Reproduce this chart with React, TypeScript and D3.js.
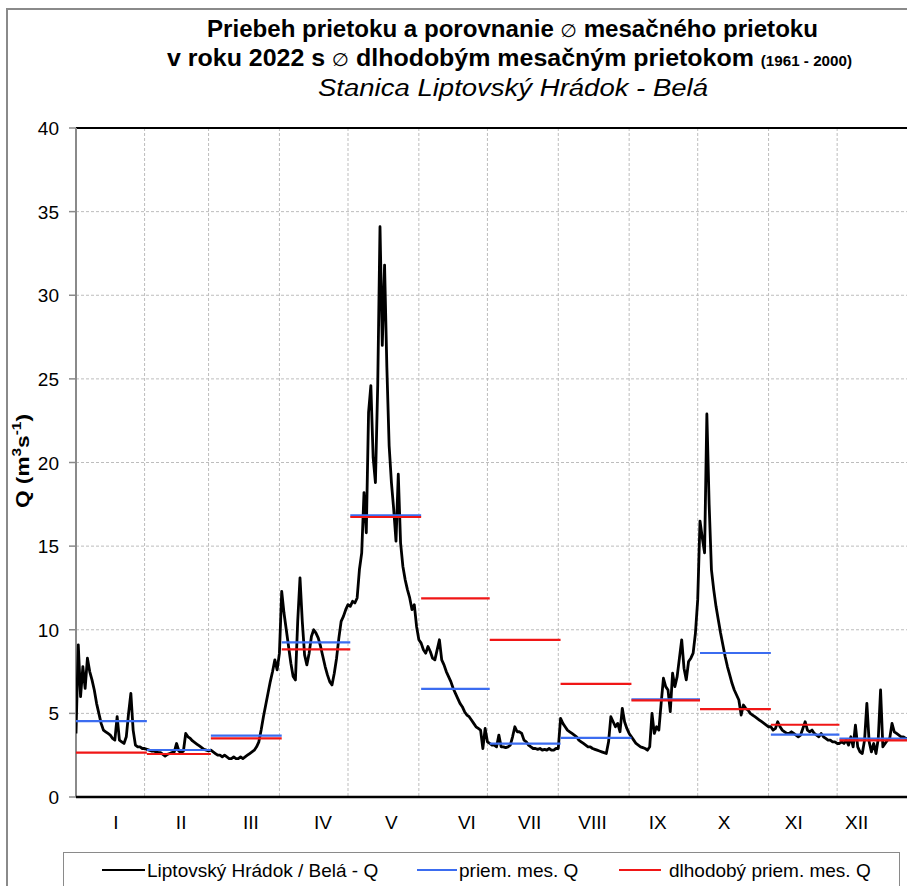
import React from "react";
import * as d3 from "d3";

// ---- data ----
const monthNames = ["I", "II", "III", "IV", "V", "VI", "VII", "VIII", "IX", "X", "XI", "XII"];
// first day-of-year (1-based) of each month, plus end
const monthStartDays = [1, 32, 60, 91, 121, 152, 182, 213, 244, 274, 305, 335, 366];
// vertical gridlines (month boundaries)
const gridDays = [31, 59, 90, 120, 151, 181, 212, 243, 273, 304, 334];
// label anchors on the day axis
const monthLabelDays = [18.5, 47, 77.5, 109, 139, 172, 199.5, 227, 255.5, 284.5, 315, 342.5];
const yTicks = [0, 5, 10, 15, 20, 25, 30, 35, 40];

// daily discharge 2022 (m3/s)
const qJan = [3.8, 9.1, 6.0, 7.8, 6.5, 8.3, 7.5, 7.0, 6.4, 5.6, 5.0, 4.4, 4.0, 3.9, 3.8, 3.7, 3.5, 3.4, 4.8, 3.4, 3.3, 3.2, 3.6, 5.0, 6.2, 4.0, 3.1, 3.0, 3.0, 2.9, 2.9];
const qFeb = [2.85, 2.8, 2.75, 2.75, 2.7, 2.65, 2.65, 2.55, 2.45, 2.55, 2.6, 2.65, 2.7, 3.2, 2.75, 2.65, 2.75, 3.8, 3.6, 3.5, 3.35, 3.25, 3.15, 3.05, 2.95, 2.85, 2.8, 2.75];
const qMar = [2.8, 2.7, 2.6, 2.5, 2.5, 2.4, 2.5, 2.4, 2.3, 2.3, 2.4, 2.3, 2.3, 2.4, 2.3, 2.4, 2.5, 2.6, 2.7, 2.8, 3.0, 3.3, 4.0, 4.8, 5.5, 6.2, 6.9, 7.5, 8.2, 7.6, 8.6];
const qApr = [12.3, 11.0, 10.0, 9.0, 8.0, 7.2, 7.0, 10.5, 13.1, 10.5, 8.5, 7.9, 8.6, 9.6, 10.0, 9.8, 9.5, 9.0, 8.4, 7.8, 7.3, 6.9, 6.7, 7.4, 8.3, 9.5, 10.5, 10.8, 11.2, 11.5];
const qMay = [11.4, 11.7, 11.6, 11.9, 13.6, 14.6, 18.2, 15.8, 23.0, 24.6, 20.3, 18.8, 24.6, 34.1, 27.0, 31.8, 25.7, 21.0, 18.8, 17.2, 15.3, 19.3, 15.2, 13.8, 13.0, 12.4, 11.9, 11.2, 11.5, 10.2, 9.4];
const qJun = [9.2, 8.8, 8.6, 9.0, 8.7, 8.3, 8.2, 8.8, 9.4, 8.2, 7.9, 7.5, 7.2, 6.9, 6.5, 6.2, 5.9, 5.6, 5.4, 5.1, 4.9, 4.8, 4.6, 4.4, 4.2, 4.1, 4.0, 2.9, 4.1, 3.3];
const qJul = [3.2, 3.1, 3.1, 3.0, 3.7, 3.0, 3.0, 2.95, 3.0, 3.1, 3.6, 4.2, 3.9, 3.9, 3.8, 3.4, 3.3, 3.1, 3.0, 2.9, 2.9, 2.85, 2.9, 2.8, 2.85, 2.8, 2.9, 2.8, 2.8, 2.9, 2.9];
const qAug = [4.7, 4.4, 4.2, 4.0, 3.9, 3.8, 3.7, 3.6, 3.4, 3.3, 3.2, 3.1, 3.0, 3.0, 2.9, 2.85, 2.8, 2.75, 2.7, 2.65, 2.6, 3.3, 4.8, 4.5, 4.2, 4.4, 3.9, 5.3, 4.5, 4.1, 3.8];
const qSep = [3.6, 3.4, 3.2, 3.1, 3.0, 2.95, 2.9, 2.8, 3.0, 5.0, 3.8, 4.2, 4.0, 5.6, 7.1, 6.6, 6.4, 5.1, 7.4, 6.6, 7.2, 8.3, 9.4, 7.7, 7.0, 8.1, 8.3, 8.6, 9.8, 11.8];
const qOct = [16.5, 15.5, 14.6, 22.9, 17.5, 13.6, 12.4, 11.4, 10.6, 9.8, 9.1, 8.4, 7.8, 7.3, 6.8, 6.4, 6.1, 5.8, 4.9, 5.5, 5.3, 5.2, 5.0, 4.9, 4.8, 4.7, 4.6, 4.5, 4.4, 4.3, 4.2];
const qNov = [4.2, 4.0, 4.1, 4.5, 4.2, 4.0, 3.9, 3.8, 3.8, 3.9, 3.8, 3.7, 3.6, 3.7, 4.1, 4.5, 4.0, 3.9, 4.0, 3.8, 3.7, 3.6, 3.8, 3.6, 3.5, 3.4, 3.4, 3.3, 3.3, 3.2];
const qDec = [3.2, 3.3, 3.2, 3.4, 3.1, 3.6, 3.0, 4.3, 3.0, 2.7, 2.6, 3.4, 5.6, 3.3, 2.7, 3.2, 2.6, 3.5, 6.4, 3.0, 3.2, 3.4, 3.5, 4.4, 3.9, 3.8, 3.7, 3.6, 3.6, 3.5, 3.5];

// monthly mean 2022 and long-term monthly mean (1961-2000)
const meanQ2022 = [4.54, 2.81, 3.67, 9.25, 16.84, 6.46, 3.19, 3.53, 5.84, 8.61, 3.73, 3.49];
const meanQLong = [2.65, 2.57, 3.51, 8.83, 16.74, 11.88, 9.39, 6.76, 5.78, 5.26, 4.32, 3.39];

const dailyQ = [qJan, qFeb, qMar, qApr, qMay, qJun, qJul, qAug, qSep, qOct, qNov, qDec].flat();

// ---- layout ----
const W = 907;
const H = 886;
const left = 76;
const right = 908;
const top = 128;
const bottom = 797;
const FONT = "'Liberation Sans', Arial, sans-serif";
const BLUE = "#3b6cf0";
const RED = "#f01616";

export default function App() {
  const x = d3.scaleLinear().domain([1, 365]).range([left, right]);
  const y = d3.scaleLinear().domain([0, 40]).range([bottom, top]);

  const lineGen = d3
    .line<number>()
    .x((_, i) => x(i + 1))
    .y((d) => y(d));

  return (
    <svg
      width={W}
      height={H}
      style={{ position: "absolute", left: 0, top: 0, background: "#fff" }}
      fontFamily={FONT}
    >
      <defs>
        <clipPath id="plotclip">
          <rect x={left} y={top - 5} width={W - left} height={bottom - top + 10} />
        </clipPath>
      </defs>
      <rect x={0} y={0} width={W} height={H} fill="#fff" />
      {/* outer frame */}
      <rect x={7} y={9} width={W + 20} height={H + 20} fill="none" stroke="#8a8a8a" strokeWidth={2} />

      {/* title */}
      <text x={512.5} y={37} textAnchor="middle" fontSize={23} fontWeight="bold" fill="#000" textLength={611} lengthAdjust="spacingAndGlyphs">
        Priebeh prietoku a porovnanie <tspan fontWeight="normal" fontSize={18} fontFamily="'DejaVu Sans', sans-serif">∅</tspan> mesačného prietoku
      </text>
      <text x={509.5} y={66} textAnchor="middle" fontSize={23} fontWeight="bold" fill="#000" textLength={685} lengthAdjust="spacingAndGlyphs">
        v roku 2022 s <tspan fontWeight="normal" fontSize={18} fontFamily="'DejaVu Sans', sans-serif">∅</tspan> dlhodobým mesačným prietokom <tspan fontSize={14}>(1961 - 2000)</tspan>
      </text>
      <text x={513} y={96} textAnchor="middle" fontSize={23} fontStyle="italic" fill="#000" textLength={390} lengthAdjust="spacingAndGlyphs">
        Stanica Liptovský Hrádok - Belá
      </text>

      {/* horizontal gridlines */}
      {yTicks
        .filter((t) => t > 0 && t < 40)
        .map((t) => (
          <line key={"hg" + t} x1={left} x2={W} y1={y(t)} y2={y(t)} stroke="#bdbdbd" strokeWidth={1} strokeDasharray="3,2" />
        ))}
      {/* vertical gridlines */}
      {gridDays.map((d) => (
        <line key={"vg" + d} x1={x(d)} x2={x(d)} y1={top} y2={bottom} stroke="#bdbdbd" strokeWidth={1} strokeDasharray="3,2" />
      ))}

      {/* plot border top and axes */}
      <line x1={left} x2={W} y1={top} y2={top} stroke="#000" strokeWidth={2} />
      <line x1={left} x2={left} y1={top} y2={bottom} stroke="#8a8a8a" strokeWidth={2} />

      {/* y ticks */}
      {yTicks.map((t) => (
        <g key={"yt" + t}>
          <line x1={left - 7} x2={left} y1={y(t)} y2={y(t)} stroke="#8a8a8a" strokeWidth={1.5} />
          <text x={59} y={y(t) + 7} textAnchor="end" fontSize={19} fill="#000">
            {t}
          </text>
        </g>
      ))}

      {/* y axis title */}
      <text transform={`translate(29,461) rotate(-90)`} textAnchor="middle" fontSize={19} fontWeight="bold" fill="#000" textLength={94} lengthAdjust="spacingAndGlyphs">
        Q (m<tspan fontSize={13} dy={-8}>3</tspan>
        <tspan dy={8}>s</tspan>
        <tspan fontSize={13} dy={-8}>-1</tspan>
        <tspan dy={8}>)</tspan>
      </text>

      {/* month labels */}
      {monthNames.map((m, i) => (
        <text key={m} x={x(monthLabelDays[i])} y={829} textAnchor="middle" fontSize={19} fill="#000">
          {m}
        </text>
      ))}

      <g clipPath="url(#plotclip)">
        {/* daily discharge */}
        <path d={lineGen(dailyQ) || ""} fill="none" stroke="#000" strokeWidth={2.8} strokeLinejoin="round" />
        {/* monthly means 2022 */}
        {meanQ2022.map((v, i) => (
          <line key={"b" + i} x1={x(monthStartDays[i])} x2={x(monthStartDays[i + 1])} y1={y(v)} y2={y(v)} stroke={BLUE} strokeWidth={2.2} />
        ))}
        {/* long-term monthly means */}
        {meanQLong.map((v, i) => (
          <line key={"r" + i} x1={x(monthStartDays[i])} x2={x(monthStartDays[i + 1])} y1={y(v)} y2={y(v)} stroke={RED} strokeWidth={2.2} />
        ))}
      </g>

      {/* x axis line */}
      <line x1={left} x2={W} y1={bottom} y2={bottom} stroke="#000" strokeWidth={2.5} />

      {/* legend */}
      <rect x={63.5} y={852.5} width={836} height={60} fill="#fff" stroke="#8a8a8a" strokeWidth={1} />
      <line x1={102} x2={145} y1={870} y2={870} stroke="#000" strokeWidth={2} />
      <text x={147} y={877} fontSize={19} fill="#000">Liptovský Hrádok / Belá - Q</text>
      <line x1={417} x2={457} y1={870} y2={870} stroke={BLUE} strokeWidth={2} />
      <text x={459} y={877} fontSize={19} fill="#000">priem. mes. Q</text>
      <line x1={619} x2={661} y1={870} y2={870} stroke={RED} strokeWidth={2} />
      <text x={669} y={877} fontSize={19} fill="#000">dlhodobý priem. mes. Q</text>
    </svg>
  );
}
